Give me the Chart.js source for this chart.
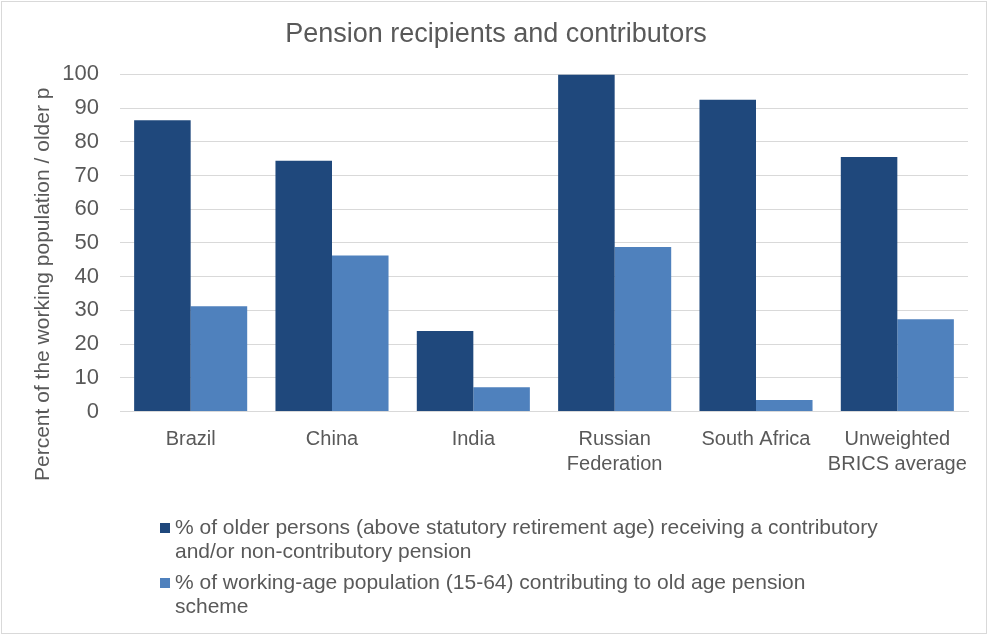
<!DOCTYPE html>
<html>
<head>
<meta charset="utf-8">
<script src="https://cdn.jsdelivr.net/npm/chart.js@4"></script>
<style>
  body { margin: 0; background: #fff; }
  #wrap { position: relative; width: 988px; height: 635px; }
  #frame { position: absolute; left: 1px; top: 1px; width: 984px; height: 631px; border: 1px solid #d9d9d9; pointer-events: none; }
  #legend { position: absolute; left: 160px; top: 515px; font-family: "Liberation Sans", sans-serif; font-size: 21px; line-height: 24px; color: #595959; }
  .item { position: relative; padding-left: 15px; margin-bottom: 7px; width: 706px; }
  .box { position: absolute; left: 0; top: 8px; width: 10px; height: 10px; }
</style>
</head>
<body>
<div id="wrap">
  <canvas id="bar-chart-pension" width="988" height="635"></canvas>
  <div id="frame"></div>
  <div id="legend"></div>
</div>
<script>
var categories = ["Brazil", "China", "India", ["Russian", "Federation"], "South Africa", ["Unweighted", "BRICS average"]];
var seriesNames = [
  "% of older persons (above statutory retirement age) receiving a contributory and/or non-contributory pension",
  "% of working-age population (15-64) contributing to old age pension scheme"
];
var olderReceiving = [86.4, 74.4, 23.9, 100, 92.5, 75.5];
var workingContributing = [31.2, 46.3, 7.2, 48.8, 3.4, 27.4];
var yTicks = [0, 10, 20, 30, 40, 50, 60, 70, 80, 90, 100];
var colors = ["#1f487c", "#4f81bd"];
var yTitle = "Percent of the working population / older p";

// y axis title is clipped in the original, so draw it by hand
var yTitlePlugin = {
  id: 'yTitle',
  afterDraw: function(chart) {
    var ctx = chart.ctx;
    ctx.save();
    ctx.translate(43, 481);
    ctx.rotate(-Math.PI / 2);
    ctx.font = '21px "Liberation Sans", sans-serif';
    ctx.fillStyle = '#595959';
    ctx.textAlign = 'left';
    ctx.textBaseline = 'middle';
    ctx.fillText(yTitle, 0, 0);
    ctx.restore();
  }
};

new Chart(document.getElementById("bar-chart-pension"), {
  type: 'bar',
  data: {
    labels: categories,
    datasets: [{
      label: seriesNames[0],
      backgroundColor: colors[0],
      data: olderReceiving
    }, {
      label: seriesNames[1],
      backgroundColor: colors[1],
      data: workingContributing
    }]
  },
  options: {
    responsive: false,
    animation: false,
    layout: { padding: { left: 24, right: 20, top: 0, bottom: 0 } },
    datasets: { bar: { categoryPercentage: 0.8, barPercentage: 1.0 } },
    plugins: {
      legend: { display: false },
      tooltip: { enabled: false },
      title: {
        display: true,
        text: "Pension recipients and contributors",
        color: '#595959',
        font: { family: '"Liberation Sans", sans-serif', size: 27, weight: 'normal' },
        padding: { top: 18, bottom: 24 }
      }
    },
    scales: {
      x: {
        grid: { display: false },
        border: { display: true, color: '#d9d9d9', width: 1 },
        ticks: {
          color: '#595959',
          font: { family: '"Liberation Sans", sans-serif', size: 20, lineHeight: 1.25 },
          padding: 7,
          maxRotation: 0,
          autoSkip: false
        },
        afterFit: function(scale) { scale.height = 223.5; }
      },
      y: {
        min: 0,
        max: 100,
        afterBuildTicks: function(scale) { scale.ticks = yTicks.map(function(v) { return { value: v }; }); },
        grid: { color: '#d9d9d9', drawTicks: false },
        border: { display: false },
        ticks: {
          color: '#595959',
          font: { family: '"Liberation Sans", sans-serif', size: 22 },
          padding: 21
        },
        afterFit: function(scale) { scale.width = 96; }
      }
    }
  },
  plugins: [yTitlePlugin]
});

var legend = document.getElementById("legend");
seriesNames.forEach(function(name, i) {
  var item = document.createElement("div");
  item.className = "item";
  var box = document.createElement("span");
  box.className = "box";
  box.style.background = colors[i];
  item.appendChild(box);
  item.appendChild(document.createTextNode(name));
  legend.appendChild(item);
});
</script>
</body>
</html>
